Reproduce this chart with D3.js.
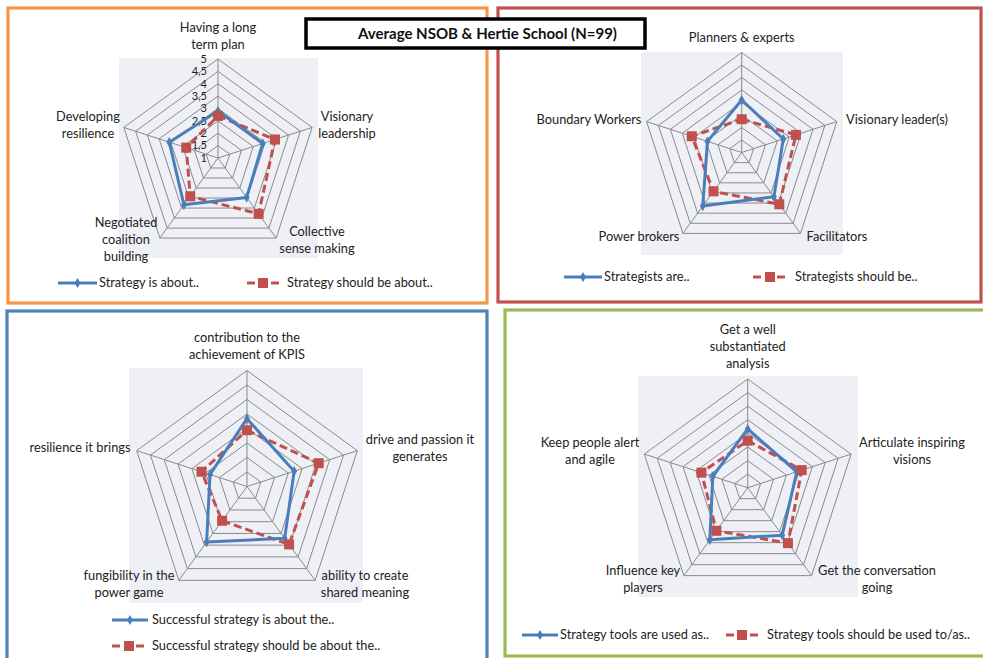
<!DOCTYPE html>
<html><head><meta charset="utf-8">
<script src="https://cdn.jsdelivr.net/npm/d3@7"></script>
<style>body{margin:0;background:#fff}svg{display:block;font-family:Lato,"Open Sans",sans-serif}</style>
</head><body><svg id="c" width="983" height="658"></svg>
<script>
// ---------- DATA ----------
const title = "Average NSOB & Hertie School (N=99)";
const tickLabels = ["1","1,5","2","2,5","3","3,5","4","4,5","5"];
const tickValues = [1,1.5,2,2.5,3,3.5,4,4.5,5];

const cats1 = [["Having a long","term plan"],["Visionary","leadership"],["Collective","sense making"],["Negotiated","coalition","building"],["Developing","resilience"]];
const is1 = [2.9, 2.9, 2.97, 3.34, 3.07];
const should1 = [2.7, 3.42, 3.79, 2.91, 2.35];
const legend1 = ["Strategy is about..", "Strategy should be about.."];

const cats2 = [["Planners & experts"],["Visionary leader(s)"],["Facilitators"],["Power brokers"],["Boundary Workers"]];
const is2 = [3.1, 2.75, 3.19, 3.65, 2.44];
const should2 = [2.33, 3.28, 3.56, 2.92, 3.1];
const legend2 = ["Strategists are..", "Strategists should be.."];

const cats3 = [["contribution to the","achievement of KPIS"],["drive and passion it","generates"],["ability to create","shared meaning"],["fungibility in the","power game"],["resilience it brings"]];
const is3 = [3.34, 2.71, 3.21, 3.37, 2.34];
const should3 = [2.94, 3.6, 3.47, 2.46, 2.65];
const legend3 = ["Successful strategy is about the..", "Successful strategy should be about the.."];

const cats4 = [["Get a well","substantiated","analysis"],["Articulate inspiring","visions"],["Get the conversation","going"],["Influence key","players"],["Keep people alert","and agile"]];
const is4 = [3.16, 2.9, 3.16, 3.37, 2.35];
const should4 = [2.73, 3.09, 3.52, 2.96, 2.79];
const legend4 = ["Strategy tools are used as..", "Strategy tools should be used to/as.."];

// ---------- LAYOUT ----------
const BLUE = "#4a7ebb", RED = "#c0504d";
const FS = 12.8;
const panels = [
  {cats:cats1, a:is1, b:should1, leg:legend1, frame:[8,8,479,295], fc:"#f79646",
   cx:218, cy:158, R:99, bg:[119,58,199,200], ticks:true,
   lab:[[218,28],[347,117],[317,232],[126,223],[88,117]],
   legPos:[[58,97,283],[247,279,283]], legTxt:[[99,283],[287,283]]},
  {cats:cats2, a:is2, b:should2, leg:legend2, frame:[498,8,483,294], fc:"#c0504d",
   cx:741.7, cy:152.5, R:100, bg:[641,52,202,203],
   lab:[[741.7,38],[897,120],[837,237],[639,237],[589,120]],
   legPos:[[564,602,277],[753,787,277]], legTxt:[[604,277],[795,277]]},
  {cats:cats3, a:is3, b:should3, leg:legend3, frame:[7,311,480,360], fc:"#4f81bd",
   cx:247, cy:486.5, R:116, bg:[129,368,234,235],
   lab:[[247,338],[420,440],[365,576],[129,576],[80,448]],
   legPos:[[112,148,620],[112,146,646]], legTxt:[[152,620],[152,646]]},
  {cats:cats4, a:is4, b:should4, leg:legend4, frame:[505,310,495,346], fc:"#9bbb59",
   cx:747.7, cy:487.7, R:108.7, bg:[638,376,220,221],
   lab:[[747.7,330],[912,443],[877,571],[643,571],[590,443]],
   legPos:[[522,558,635],[726,758,635]], legTxt:[[560,635],[767,635]]}
];

const svg = d3.select("#c");
const LH = 17;

panels.forEach(p => {
  const g = svg.append("g");
  g.append("rect").attr("x",p.frame[0]).attr("y",p.frame[1]).attr("width",p.frame[2]).attr("height",p.frame[3])
    .attr("fill","#fff").attr("stroke",p.fc).attr("stroke-width",3.2);
  g.append("rect").attr("x",p.bg[0]).attr("y",p.bg[1]).attr("width",p.bg[2]).attr("height",p.bg[3]).attr("fill","#eef0f5");

  const r = d3.scaleLinear().domain([1,5]).range([0,p.R]);
  const ang = d3.scaleLinear().domain([0,5]).range([0,2*Math.PI]);
  const pt = (i,v) => [p.cx + r(v)*Math.sin(ang(i)), p.cy - r(v)*Math.cos(ang(i))];
  const idx = d3.range(5);

  tickValues.slice(1).forEach(tv => {
    g.append("path").attr("d", d3.line()(idx.map(i=>pt(i,tv))) + "Z")
      .attr("fill","none").attr("stroke","#8a8a8a").attr("stroke-width",1);
  });
  idx.forEach(i => {
    const e = pt(i,5);
    g.append("line").attr("x1",p.cx).attr("y1",p.cy).attr("x2",e[0]).attr("y2",e[1])
      .attr("stroke","#8a8a8a").attr("stroke-width",1);
  });
  if (p.ticks) {
    tickValues.forEach((tv,k) => {
      g.append("text").attr("x",p.cx-11).attr("y",p.cy - r(tv)).attr("dy","0.35em")
        .attr("text-anchor","end").attr("font-size",11).attr("fill","#222").text(tickLabels[k]);
    });
  }
  p.cats.forEach((lines,i) => {
    const [lx,ly] = p.lab[i];
    const t = g.append("text").attr("text-anchor","middle").attr("font-size",FS).attr("fill","#222");
    lines.forEach((s,j) => t.append("tspan").attr("x",lx).attr("y",ly + j*LH).attr("dy","0.35em").text(s));
  });

  const line = d3.line();
  const ptsA = idx.map(i=>pt(i,p.a[i]));
  const ptsB = idx.map(i=>pt(i,p.b[i]));
  g.append("path").attr("d", line(ptsB)+"Z").attr("fill","none").attr("stroke",RED)
    .attr("stroke-width",3).attr("stroke-dasharray","8,4");
  g.append("path").attr("d", line(ptsA)+"Z").attr("fill","none").attr("stroke",BLUE)
    .attr("stroke-width",3).attr("stroke-linejoin","round");
  const diamond = d3.symbol().type(d3.symbolDiamond).size(30);
  g.selectAll(".mb").data(ptsA).join("path").attr("transform",d=>`translate(${d})`)
    .attr("d",diamond()).attr("fill",BLUE);
  g.selectAll(".mr").data(ptsB).join("rect").attr("x",d=>d[0]-5).attr("y",d=>d[1]-5)
    .attr("width",10).attr("height",10).attr("fill",RED);

  const [la, lb] = p.legPos;
  g.append("line").attr("x1",la[0]).attr("x2",la[1]).attr("y1",la[2]).attr("y2",la[2])
    .attr("stroke",BLUE).attr("stroke-width",3);
  g.append("path").attr("transform",`translate(${(la[0]+la[1])/2},${la[2]})`).attr("d",diamond()).attr("fill",BLUE);
  g.append("line").attr("x1",lb[0]).attr("x2",lb[1]).attr("y1",lb[2]).attr("y2",lb[2])
    .attr("stroke",RED).attr("stroke-width",3).attr("stroke-dasharray","8,4");
  g.append("rect").attr("x",(lb[0]+lb[1])/2-5).attr("y",lb[2]-5).attr("width",10).attr("height",10).attr("fill",RED);
  p.leg.forEach((s,k) => {
    g.append("text").attr("x",p.legTxt[k][0]).attr("y",p.legTxt[k][1]).attr("dy","0.35em")
      .attr("font-size",FS).attr("fill","#222").text(s);
  });
});

svg.append("rect").attr("x",306).attr("y",19).attr("width",339).attr("height",29)
  .attr("fill","#fff").attr("stroke","#000").attr("stroke-width",3.5);
svg.append("text").attr("x",358).attr("y",34).attr("dy","0.35em").attr("font-size",15)
  .attr("font-weight","bold").attr("fill","#111").attr("textLength",259).attr("lengthAdjust","spacingAndGlyphs").text(title);
</script></body></html>
